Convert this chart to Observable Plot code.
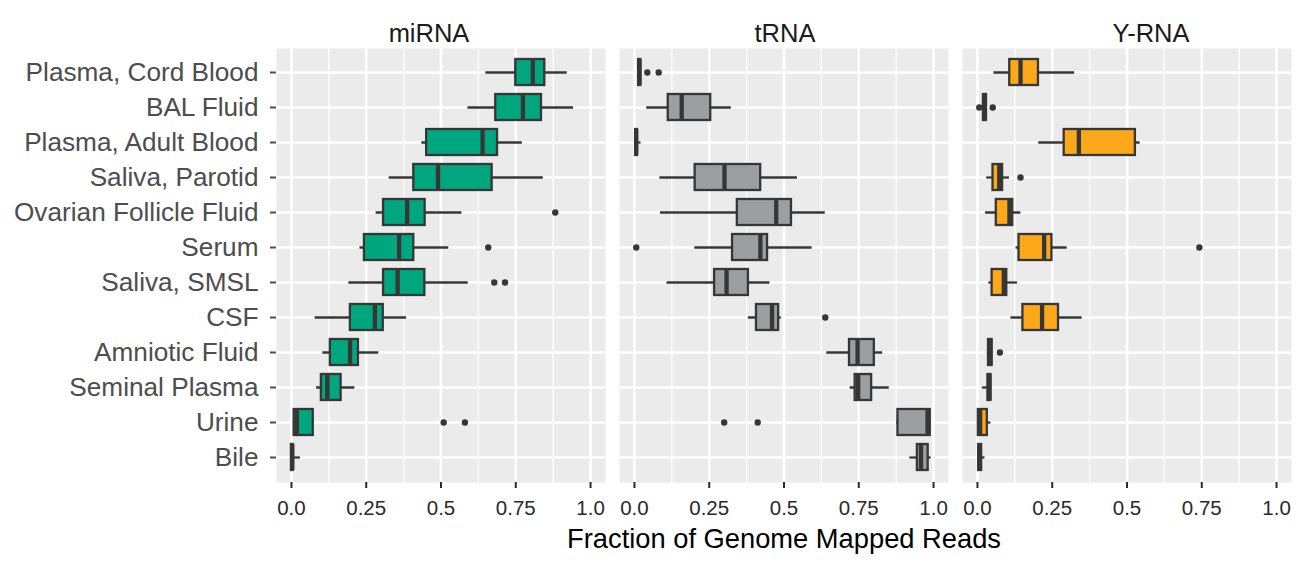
<!DOCTYPE html>
<html>
<head>
<meta charset="utf-8">
<script src="https://cdn.jsdelivr.net/npm/d3@7"></script>
<script src="https://cdn.jsdelivr.net/npm/@observablehq/plot@0.6"></script>
<style>
  html, body { margin: 0; padding: 0; background: white; }
</style>
</head>
<body>
<div id="chart"></div>
<script>
const categories = ["Plasma, Cord Blood","BAL Fluid","Plasma, Adult Blood","Saliva, Parotid","Ovarian Follicle Fluid","Serum","Saliva, SMSL","CSF","Amniotic Fluid","Seminal Plasma","Urine","Bile"];
const panels = ["miRNA","tRNA","Y-RNA"];
const xTicks = [0, 0.25, 0.5, 0.75, 1];
const xTickLabels = ["0.0","0.25","0.5","0.75","1.0"];
const xMinorTicks = [0.125, 0.375, 0.625, 0.875];

// [lower whisker, q1, median, q3, upper whisker] per category
const mirnaStats = [
  [0.650,0.750,0.807,0.847,0.922],
  [0.590,0.683,0.774,0.836,0.943],
  [0.436,0.452,0.639,0.689,0.772],
  [0.327,0.409,0.490,0.671,0.842],
  [0.283,0.308,0.387,0.447,0.570],
  [0.229,0.244,0.360,0.409,0.526],
  [0.192,0.308,0.355,0.446,0.591],
  [0.079,0.197,0.279,0.307,0.385],
  [0.105,0.130,0.196,0.224,0.292],
  [0.084,0.100,0.120,0.166,0.212],
  [0.009,0.009,0.018,0.073,0.076],
  [0.000,0.000,0.003,0.006,0.030]
];
const mirnaOutliers = [[],[],[],[],[0.882],[0.658],[0.678,0.714],[],[],[],[0.509,0.580],[]];

const trnaStats = [
  [0.012,0.014,0.017,0.021,0.024],
  [0.041,0.113,0.158,0.255,0.324],
  [0.003,0.004,0.006,0.010,0.022],
  [0.085,0.203,0.301,0.422,0.545],
  [0.087,0.344,0.474,0.525,0.638],
  [0.202,0.328,0.421,0.445,0.594],
  [0.109,0.268,0.308,0.381,0.453],
  [0.381,0.408,0.460,0.482,0.491],
  [0.643,0.719,0.746,0.802,0.830],
  [0.721,0.738,0.748,0.793,0.852],
  [0.877,0.881,0.980,0.989,0.992],
  [0.921,0.946,0.958,0.982,0.992]
];
const trnaOutliers = [[0.043,0.081],[],[],[],[],[0.006],[],[0.638],[],[],[0.300,0.412],[]];

const yrnaStats = [
  [0.055,0.108,0.144,0.204,0.325],
  [0.018,0.020,0.025,0.030,0.032],
  [0.205,0.290,0.339,0.528,0.544],
  [0.031,0.052,0.073,0.084,0.107],
  [0.027,0.063,0.107,0.118,0.145],
  [0.129,0.139,0.223,0.249,0.300],
  [0.038,0.049,0.088,0.098,0.134],
  [0.112,0.152,0.216,0.271,0.350],
  [0.033,0.037,0.043,0.049,0.052],
  [0.016,0.035,0.040,0.045,0.046],
  [0.000,0.003,0.009,0.033,0.045],
  [0.003,0.004,0.008,0.014,0.025]
];
const yrnaOutliers = [[],[0.006,0.051],[],[0.144],[],[0.742],[],[],[0.075],[],[],[]];

const panelColors = ["#00A67E","#9C9E9F","#FBA91B"];

// build tables for the library
const statsByPanel = [mirnaStats, trnaStats, yrnaStats];
const outByPanel = [mirnaOutliers, trnaOutliers, yrnaOutliers];
const boxes = [];
const outliers = [];
panels.forEach((p, pi) => {
  categories.forEach((c, ci) => {
    const s = statsByPanel[pi][ci];
    boxes.push({panel: p, cat: c, lo: s[0], q1: s[1], med: s[2], q3: s[3], hi: s[4]});
    outByPanel[pi][ci].forEach(v => outliers.push({panel: p, cat: c, x: v}));
  });
});

const ink = "#363636";
const stripText = (name, dx) => Plot.text([name], {fx: d => d, text: d => d, frameAnchor: "top", dy: -24.6, dx, fontSize: 25.5, fill: "#1A1A1A"});

const chart = Plot.plot({
  width: 1313,
  height: 566,
  marginLeft: 276,
  marginRight: 21,
  marginTop: 48,
  marginBottom: 84,
  style: {fontFamily: "'Liberation Sans', Arial, Helvetica, sans-serif", background: "white"},
  fx: {domain: panels, paddingInner: 0.04, paddingOuter: 0, axis: null, label: null},
  x: {domain: [-0.05, 1.05], axis: null},
  y: {domain: categories, type: "band", paddingInner: 0.25, paddingOuter: 0.225, axis: null},
  color: {domain: panels, range: panelColors},
  marks: [
    Plot.frame({fill: "#EBEBEB", stroke: null}),
    Plot.gridX({ticks: xMinorTicks, stroke: "white", strokeOpacity: 1, strokeWidth: 1.3}),
    Plot.gridX({ticks: xTicks, stroke: "white", strokeOpacity: 1, strokeWidth: 2.6}),
    Plot.gridY({stroke: "white", strokeOpacity: 1, strokeWidth: 2.6}),
    Plot.axisX({ticks: xTicks, tickFormat: d => xTickLabels[xTicks.indexOf(d)], tickSize: 6, tickPadding: 12, fontSize: 20.5, color: "#2a2a2a", strokeWidth: 2, label: null}),
    Plot.axisY({tickSize: 6, tickPadding: 12, fontSize: 26.2, color: "#4D4D4D", strokeWidth: 2, label: null}),
    Plot.ruleY(boxes, {fx: "panel", y: "cat", x1: "lo", x2: "hi", stroke: ink, strokeWidth: 2.3}),
    Plot.barX(boxes, {fx: "panel", y: "cat", x1: "q1", x2: "q3", fill: "panel", stroke: ink, strokeWidth: 2.3}),
    Plot.tickX(boxes, {fx: "panel", y: "cat", x: "med", stroke: ink, strokeWidth: 4.3}),
    Plot.dot(outliers, {fx: "panel", y: "cat", x: "x", r: 3.2, fill: ink, stroke: null}),
    stripText(panels[0], -12),
    stripText(panels[1], 1),
    stripText(panels[2], 24),
    Plot.text(["Fraction of Genome Mapped Reads"], {fx: () => "tRNA", text: d => d, frameAnchor: "bottom", dy: 65, fontSize: 27.3, fill: "#000"})
  ]
});
document.getElementById("chart").appendChild(chart);
</script>
</body>
</html>
